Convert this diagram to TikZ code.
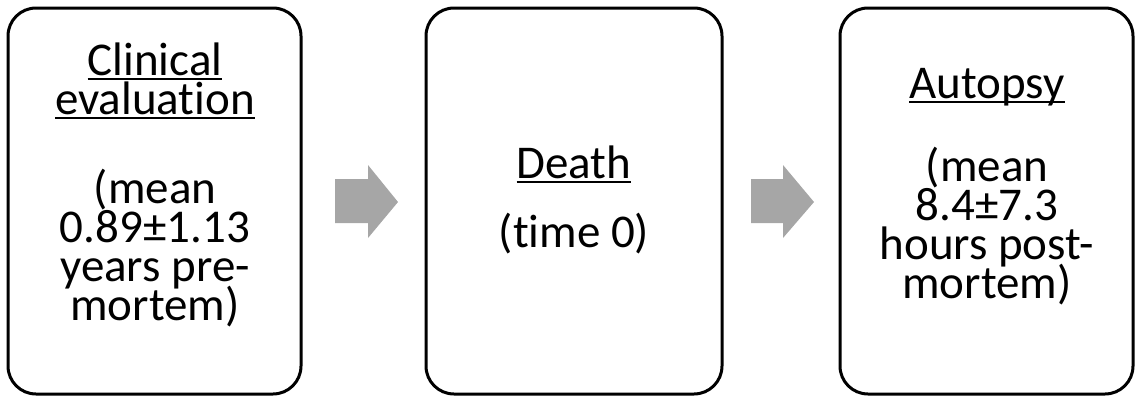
\documentclass[tikz,border=0pt]{standalone}
\usepackage{fontspec}
\setmainfont{Carlito}[RawFeature={-liga}]
\definecolor{arrowgray}{HTML}{A6A6A6}
% underline at a fixed depth below the baseline, as word processors do
\newcommand{\headline}[1]{\setbox0\hbox{#1}\rlap{\rule[-0.115em]{\wd0}{0.055em}}\box0}
\tikzset{
  stage/.style={draw=black, line width=3pt, rounded corners=28pt},
  % anchored at the baseline of the last line of the text
  stagetext/.style={align=center, anchor=base, inner sep=0pt,
    font={\fontsize{47}{39}\selectfont\lineskiplimit=-100pt}},
  blockarrow/.style={fill=arrowgray, draw=none},
}
\begin{document}
\begin{tikzpicture}[x=1pt, y=-1pt]
  \useasboundingbox (0,0) rectangle (1136,397);

  % the three stages
  \draw[stage] (8,8) rectangle (301,394);
  \draw[stage] (426,8) rectangle (722,394);
  \draw[stage] (840,8) rectangle (1133,394);

  \node[stagetext] (t1) at (155,320)
    {\headline{Clinical}\\\headline{evaluation}\\[50pt]
     (mean\\0.89±1.13\\years pre-\\mortem)};
  \node[stagetext] (t2) at (574,247)
    {\headline{Death}\\[30pt](time 0)};
  \node[stagetext] (t3) at (987,298)
    {\headline{Autopsy}\\[44pt]
     (mean\\8.4±7.3\\hours post-\\mortem)};

  % block arrows between the stages
  \fill[blockarrow] (335,179) -- (368,179) -- (368,165) -- (398,202)
    -- (368,238) -- (368,223) -- (335,223) -- cycle;
  \fill[blockarrow] (751,179) -- (783,179) -- (783,165) -- (814,202)
    -- (783,238) -- (783,223) -- (751,223) -- cycle;
\end{tikzpicture}
\end{document}
